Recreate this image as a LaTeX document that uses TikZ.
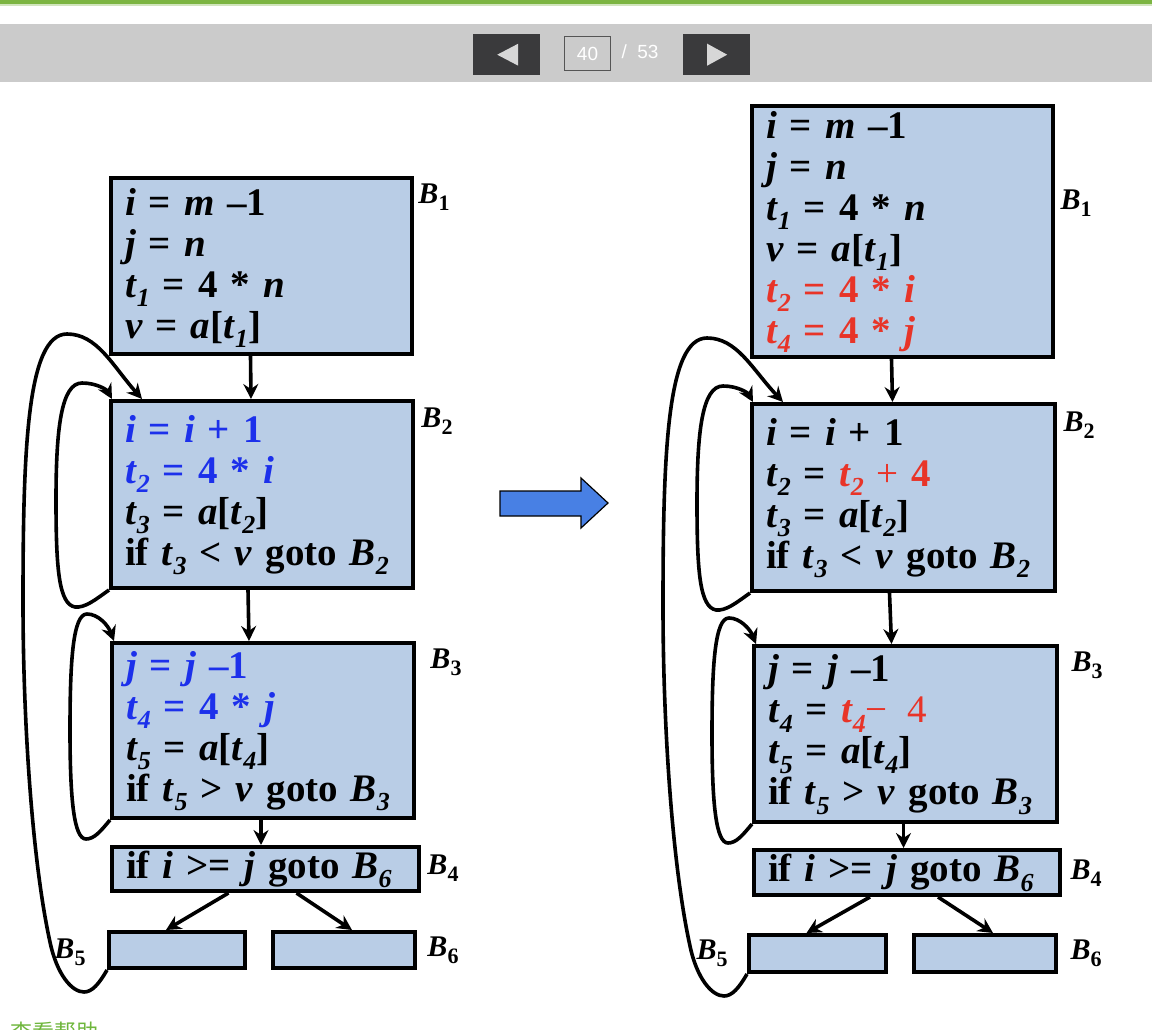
\documentclass[tikz,border=0pt]{standalone}
\usepackage{fontspec}
\setmainfont{Liberation Serif}
\newfontfamily\uifont{Liberation Sans}
\newfontfamily\cjkfont{Noto Sans CJK SC}
\usepackage{tikz}
\usetikzlibrary{positioning, arrows.meta, calc}

\definecolor{boxblue}{RGB}{185,205,230}
\definecolor{codeblue}{RGB}{28,48,235}
\definecolor{codered}{RGB}{232,52,40}
\definecolor{bigarrow}{RGB}{72,128,228}
\definecolor{barGray}{RGB}{203,203,203}
\definecolor{btnDark}{RGB}{58,58,60}
\definecolor{btnTri}{RGB}{215,215,215}
\definecolor{pageEdge}{RGB}{85,85,85}
\definecolor{topGreen}{RGB}{124,181,66}
\definecolor{helpGreen}{RGB}{110,182,60}

% variables, subscripts and block names
\newcommand{\iv}[1]{\textit{#1}}
\newcommand{\lowsub}[1]{\raisebox{-0.24em}[0pt][0pt]{\fontsize{26}{26}\selectfont #1}}
\newcommand{\tv}[1]{\iv{t}\lowsub{\iv{#1}}}
\newcommand{\bv}[1]{\iv{B}\lowsub{\iv{#1}}}
\newcommand{\blab}[1]{\iv{B}\raisebox{-0.22em}{\fontsize{22}{22}\selectfont #1}}

\begin{document}
\begin{tikzpicture}[x=1pt, y=-1pt,
        block/.style 2 args = {draw, line width=4pt, fill=boxblue, anchor=north west, inner xsep=14pt, inner ysep=0pt, align=left, text width=#1, minimum height=#2, font=\fontsize{39}{41}\selectfont\bfseries},
        lbl/.style = {inner sep=0pt, font=\fontsize{30}{30}\selectfont\bfseries},
        flow/.style = {-{Stealth[length=15pt, width=15pt, inset=5pt]}, line width=3.6pt},
        btn/.style = {fill=btnDark, anchor=north west, minimum width=67pt, minimum height=41pt, inner sep=0pt},
        navtext/.style = {text=white, inner sep=0pt, font=\uifont\fontsize{19}{19}\selectfont},
    ]
        \useasboundingbox (0,0) rectangle (1152,1030);
        \clip (0,0) rectangle (1152,1030);
        \fill[white] (0,0) rectangle (1152,1030);

        % page bar
        \fill[topGreen] (0,0) rectangle (1152,4);
        \fill[topGreen!35] (0,4) rectangle (1152,6);
        \fill[barGray] (0,24) rectangle (1152,82);
        \node[btn] (prev) at (473,34) {};
        \node[btn] (next) at (683,34) {};
        \fill[btnTri, shift={(prev.center)}] (-9.5,0) -- (11.5,-11) -- (11.5,11) -- cycle;
        \fill[btnTri, shift={(next.center)}] (10.5,0) -- (-9.5,-11) -- (-9.5,11) -- cycle;
        \node[navtext, draw=pageEdge, line width=1.5pt, minimum width=46pt, minimum height=34pt] (page) at (587.5,53.5) {40};
        \node[navtext] (total) at (640,52) {/\ \ 53};

        % before
        \node[block={273pt}{176pt}] (l1) at (109,176) {\iv{i} = \iv{m} –1\\ \iv{j} = \iv{n}\\ \tv{1} = 4 * \iv{n}\\ \iv{v} = \iv{a}[\tv{1}]};
        \node[block={274pt}{187pt}] (l2) at (109,399) {{\color{codeblue}\iv{i} = \iv{i} + 1}\\ {\color{codeblue}\tv{2} = 4 * \iv{i}}\\ \tv{3} = \iv{a}[\tv{2}]\\ if \tv{3} < \iv{v} goto \bv{2}};
        \node[block={274pt}{175pt}] (l3) at (110,641) {{\color{codeblue}\iv{j} = \iv{j} –1}\\ {\color{codeblue}\tv{4} = 4 * \iv{j}}\\ \tv{5} = \iv{a}[\tv{4}]\\ if \tv{5} > \iv{v} goto \bv{3}};
        \node[block={279pt}{44pt}] (l4) at (110,845) {if \iv{i} >= \iv{j} goto \bv{6}};
        \node[block={108pt}{36pt}] (l5) at (107,930) {};
        \node[block={114pt}{36pt}] (l6) at (271,930) {};

        % after
        \node[block={273pt}{251pt}] (r1) at (750,104) {\iv{i} = \iv{m} –1\\ \iv{j} = \iv{n}\\ \tv{1} = 4 * \iv{n}\\ \iv{v} = \iv{a}[\tv{1}]\\ {\color{codered}\tv{2} = 4 * \iv{i}}\\ {\color{codered}\tv{4} = 4 * \iv{j}}};
        \node[block={275pt}{187pt}] (r2) at (750,402) {\iv{i} = \iv{i} + 1\\ \tv{2} = {\color{codered}\tv{2} {\mdseries+} 4}\\ \tv{3} = \iv{a}[\tv{2}]\\ if \tv{3} < \iv{v} goto \bv{2}};
        \node[block={275pt}{176pt}] (r3) at (752,644) {\iv{j} = \iv{j} –1\\ \tv{4} = {\color{codered}\tv{4}{\mdseries −\enspace4}}\\ \tv{5} = \iv{a}[\tv{4}]\\ if \tv{5} > \iv{v} goto \bv{3}};
        \node[block={278pt}{45pt}] (r4) at (752,848) {if \iv{i} >= \iv{j} goto \bv{6}};
        \node[block={109pt}{37pt}] (r5) at (747,933) {};
        \node[block={114pt}{37pt}] (r6) at (912,933) {};

        % block names
        \node[lbl] (nl1) at (434,197) {\blab{1}};
        \node[lbl] (nl2) at (437,421) {\blab{2}};
        \node[lbl] (nl3) at (446,662) {\blab{3}};
        \node[lbl] (nl4) at (443,868) {\blab{4}};
        \node[lbl] (nl5) at (70,952) {\blab{5}};
        \node[lbl] (nl6) at (443,950) {\blab{6}};
        \node[lbl] (nr1) at (1076,203) {\blab{1}};
        \node[lbl] (nr2) at (1079,425) {\blab{2}};
        \node[lbl] (nr3) at (1087,665) {\blab{3}};
        \node[lbl] (nr4) at (1086,873) {\blab{4}};
        \node[lbl] (nr5) at (712,953) {\blab{5}};
        \node[lbl] (nr6) at (1086,953) {\blab{6}};

        \foreach \s in {l,r} {
            \draw[flow] ([xshift=-11pt]\s1.south) -- ([xshift=-11pt]\s2.north);
            \draw[flow] ([xshift=-14pt]\s2.south) -- ([xshift=-14pt]\s3.north);
            \draw[flow] ([xshift=-2pt]\s3.south) -- ([xshift=-2pt]\s3.south |- \s4.north);
            \draw[flow] ([xshift=-37pt]\s4.south) -- ([xshift=-11pt]\s5.north);
            \draw[flow] ([xshift=31pt]\s4.south) -- ([xshift=8pt]\s6.north);
            % back edges
            \draw[flow, shift={(\s2.south west)}] (\s2.south west) .. controls (-14,10) and (-24,18) .. (-34,17)
                .. controls (-50,14) and (-53,-20) .. (-53,-90) .. controls (-53,-160) and (-48,-207) .. (-27,-207)
                .. controls (-12,-207) and (-2,-200) .. ([xshift=3pt]\s2.north west);
            \draw[flow, shift={(\s3.south west)}] (\s3.south west) .. controls (-10,12) and (-16,19) .. (-24,19)
                .. controls (-36,19) and (-40,-20) .. (-40,-90) .. controls (-40,-160) and (-37,-206) .. (-23,-206)
                .. controls (-12,-206) and (-2,-195) .. ([xshift=4pt]\s3.north west);
            \draw[flow, shift={(\s5.south west)}] (\s5.south west) .. controls (-8,14) and (-15,22) .. (-23,22)
                .. controls (-35,22) and (-50,5) .. (-57,-28) .. controls (-75,-110) and (-84,-250) .. (-84,-368)
                .. controls (-84,-520) and (-80,-636) .. (-40,-636) .. controls (-10,-636) and (5,-605) .. ([xshift=33pt]\s2.north west);
        }

        % big arrow
        \draw[line width=1.2pt, fill=bigarrow] (500,491) -- (581,491) -- (581,478) -- (608,503) -- (581,528) -- (581,516) -- (500,516) -- cycle;

        \node[anchor=base west, inner sep=0pt, text=helpGreen, font=\cjkfont\fontsize{22}{22}\selectfont] (help) at (10,1040) {查看帮助};
    \end{tikzpicture}
\end{document}
